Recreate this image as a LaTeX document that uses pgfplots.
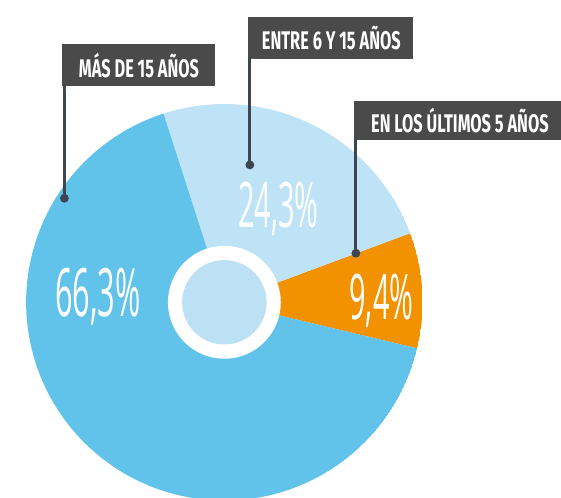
\documentclass[border=0pt]{standalone}
\usepackage{pgfplots}
\pgfplotsset{compat=1.18}
\usepackage{pgfplotstable}
\usepgfplotslibrary{polar}
\usepackage{fontspec}
\setmainfont{Fira Sans}
\newfontfamily\labfont{Fira Sans}[FakeStretch=0.64]
\newfontfamily\pctfont{Open Sans}[FakeStretch=0.46]
\definecolor{cBlue}{HTML}{62C3EA}
\definecolor{cLight}{HTML}{BFE3F6}
\definecolor{cOrange}{HTML}{F39200}
\definecolor{cInner}{HTML}{BDE1F4}
\definecolor{cBox}{HTML}{4A4A4A}
\definecolor{cLine}{HTML}{3C4550}
\pgfplotstableread{
label value
ultimos 9.4
entre 24.3
mas 66.3
}\piedata
\begin{document}
\pgfplotstablegetelem{0}{value}\of\piedata\let\vA\pgfplotsretval
\pgfplotstablegetelem{1}{value}\of\piedata\let\vB\pgfplotsretval
\pgfplotstablegetelem{2}{value}\of\piedata\let\vC\pgfplotsretval
\pgfmathsetmacro\aA{-13.44}
\pgfmathsetmacro\aB{\aA+3.6*\vA}
\pgfmathsetmacro\aC{\aB+3.6*\vB}
\pgfmathsetmacro\aD{\aC+3.6*\vC}
\begin{tikzpicture}[x=1pt,y=1pt]
\useasboundingbox (0,0) rectangle (561,507);
\clip (0,0) rectangle (561,507);
\fill[white] (0,0) rectangle (561,507);
\begin{polaraxis}[hide axis, scale only axis, width=404pt, height=404pt,
  ymin=0, ymax=1, xmin=0, xmax=360, at={(218pt,199pt)}, anchor=center]
\addplot[fill=cOrange, draw=none, domain=\aA:\aB, samples=60] {1} -- (axis cs:0,0) -- cycle;
\addplot[fill=cLight, draw=none, domain=\aB:\aC, samples=80] {1} -- (axis cs:0,0) -- cycle;
\addplot[fill=cBlue, draw=none, domain=\aC:\aD, samples=160] {1} -- (axis cs:0,0) -- cycle;
\end{polaraxis}
\fill[white] (218,199) circle (57.5);
\fill[cInner] (218,199) circle (43);
% percentage labels
\node[text=white, font=\pctfont\fontsize{68}{68}\selectfont] at (89,205) {66,3\%};
\node[text=white, font=\pctfont\fontsize{64}{64}\selectfont] at (273,294) {24,3\%};
\node[text=white, font=\pctfont\fontsize{64}{64}\selectfont] at (378,201) {9,4\%};
% callouts
\fill[cBox] (53,419) rectangle (208,462);
\draw[cLine, line width=3] (55,420) -- (55,305);
\fill[cLine] (55,305) circle (4.5);
\fill[white] (56.5,419) -- (62,419) arc (0:-90:5.5) -- cycle;
\node[text=white, font=\labfont\bfseries\fontsize{26}{26}\selectfont] at (131,440) {MÁS DE 15 AÑOS};
\fill[cBox] (242,447) rectangle (410,490);
\draw[cLine, line width=3] (244,448) -- (244,339);
\fill[cLine] (244,339) circle (4.5);
\fill[white] (245.5,447) -- (251,447) arc (0:-90:5.5) -- cycle;
\node[text=white, font=\labfont\bfseries\fontsize{26}{26}\selectfont] at (327,468) {ENTRE 6 Y 15 AÑOS};
\fill[cBox] (350,364) rectangle (561,404);
\draw[cLine, line width=3] (352,365) -- (352,249);
\fill[cLine] (352,249) circle (4.5);
\fill[white] (353.5,364) -- (359,364) arc (0:-90:5.5) -- cycle;
\node[text=white, font=\labfont\bfseries\fontsize{26}{26}\selectfont] at (458,384) {EN LOS ÚLTIMOS 5 AÑOS};
\end{tikzpicture}
\end{document}
